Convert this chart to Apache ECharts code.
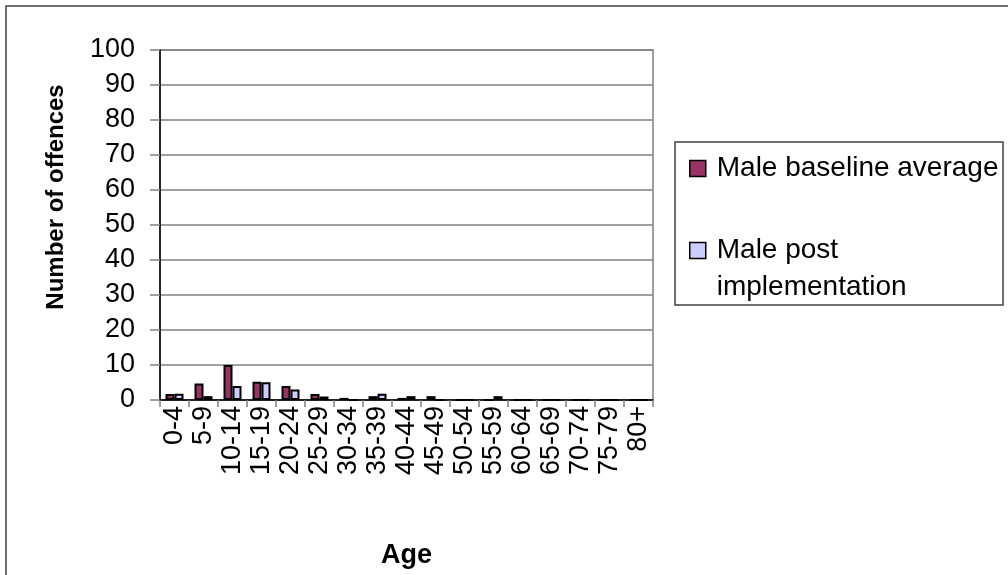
<!DOCTYPE html>
<html>
<head>
<meta charset="utf-8">
<style>
  html, body { margin: 0; padding: 0; background: #fff; }
  #chart { width: 1008px; height: 575px; }
</style>
<script src="https://cdn.jsdelivr.net/npm/echarts@6/dist/echarts.min.js"></script>
</head>
<body>
<div id="chart"></div>
<script>
// Age bands on the category axis
const ageBands = ['0-4', '5-9', '10-14', '15-19', '20-24', '25-29', '30-34', '35-39',
  '40-44', '45-49', '50-54', '55-59', '60-64', '65-69', '70-74', '75-79', '80+'];

// Number of offences per age band
const maleBaselineAverage = [1.7, 4.7, 10, 5.2, 4, 1.7, 0.6, 1.1, 0.6, 1.1, 0, 0, 0, 0, 0, 0, 0];
const malePostImplementation = [1.8, 1.1, 4, 5.1, 3, 1, 0, 1.8, 1.1, 0, 0, 1.1, 0, 0, 0, 0, 0];

const seriesNames = ['Male baseline average', 'Male post implementation'];
const legendLabels = ['Male baseline average', '\nMale post\nimplementation'];

const FONT = '"Liberation Sans", Arial, sans-serif';
const chart = echarts.init(document.getElementById('chart'), null, { renderer: 'canvas' });

chart.setOption({
  animation: false,
  backgroundColor: '#ffffff',
  textStyle: { fontFamily: FONT, color: '#000' },
  graphic: [
    // chart area frame
    { type: 'rect', shape: { x: 6, y: 6, width: 1020, height: 600 },
      style: { fill: null, stroke: '#404040', lineWidth: 1.5 }, z: -1, silent: true },
    // legend frame
    { type: 'rect', shape: { x: 675, y: 142, width: 328, height: 163 },
      style: { fill: '#fff', stroke: '#404040', lineWidth: 1.5 }, z: 0, silent: true },
    // value axis title
    { type: 'text', x: 56, y: 197, rotation: Math.PI / 2, silent: true, z: 5,
      style: { text: 'Number of offences', fontFamily: FONT, fontSize: 24, fontWeight: 'bold',
               fill: '#000', align: 'center', verticalAlign: 'middle' } }
  ],
  grid: {
    left: 160, top: 50, width: 493, height: 350,
    show: true, borderColor: '#808080', borderWidth: 1.5,
    containLabel: false, outerBoundsMode: 'none'
  },
  legend: {
    orient: 'vertical',
    left: 684, top: 145,
    itemWidth: 16, itemHeight: 16, itemGap: 8,
    z: 5,
    data: seriesNames.map(n => ({ name: n, itemStyle: { borderColor: '#000', borderWidth: 1.5 } })),
    formatter: name => legendLabels[seriesNames.indexOf(name)],
    textStyle: { fontFamily: FONT, fontSize: 28, color: '#000', lineHeight: 37, padding: [0, 0, 0, 6] },
    icon: 'rect'
  },
  xAxis: {
    type: 'category',
    data: ageBands,
    boundaryGap: true,
    name: 'Age',
    nameLocation: 'middle',
    nameGap: 142,
    nameTextStyle: { fontFamily: FONT, fontSize: 27, fontWeight: 'bold', color: '#000' },
    axisLine: { show: true, lineStyle: { color: '#000', width: 1.5 } },
    axisTick: { show: true, interval: 0, length: 7, lineStyle: { color: '#808080', width: 1.5 } },
    axisLabel: { interval: 0, rotate: 90, margin: 6, fontFamily: FONT, fontSize: 27, color: '#000' },
    splitLine: { show: false }
  },
  yAxis: {
    type: 'value',
    min: 0, max: 100, interval: 10,
    axisLine: { show: true, lineStyle: { color: '#000', width: 1.5 } },
    axisTick: { show: true, length: 10, lineStyle: { color: '#808080', width: 1.5 } },
    axisLabel: { margin: 25, fontFamily: FONT, fontSize: 27, color: '#000' },
    splitLine: { show: true, lineStyle: { color: '#808080', width: 1.5 } }
  },
  series: [
    {
      name: seriesNames[0], type: 'bar', data: maleBaselineAverage,
      barGap: '0%', barCategoryGap: '38%',
      itemStyle: { color: '#993366', borderColor: '#000', borderWidth: 2 }
    },
    {
      name: seriesNames[1], type: 'bar', data: malePostImplementation,
      barGap: '0%', barCategoryGap: '38%',
      itemStyle: { color: '#ccccff', borderColor: '#000', borderWidth: 2 }
    }
  ]
});
</script>
</body>
</html>
